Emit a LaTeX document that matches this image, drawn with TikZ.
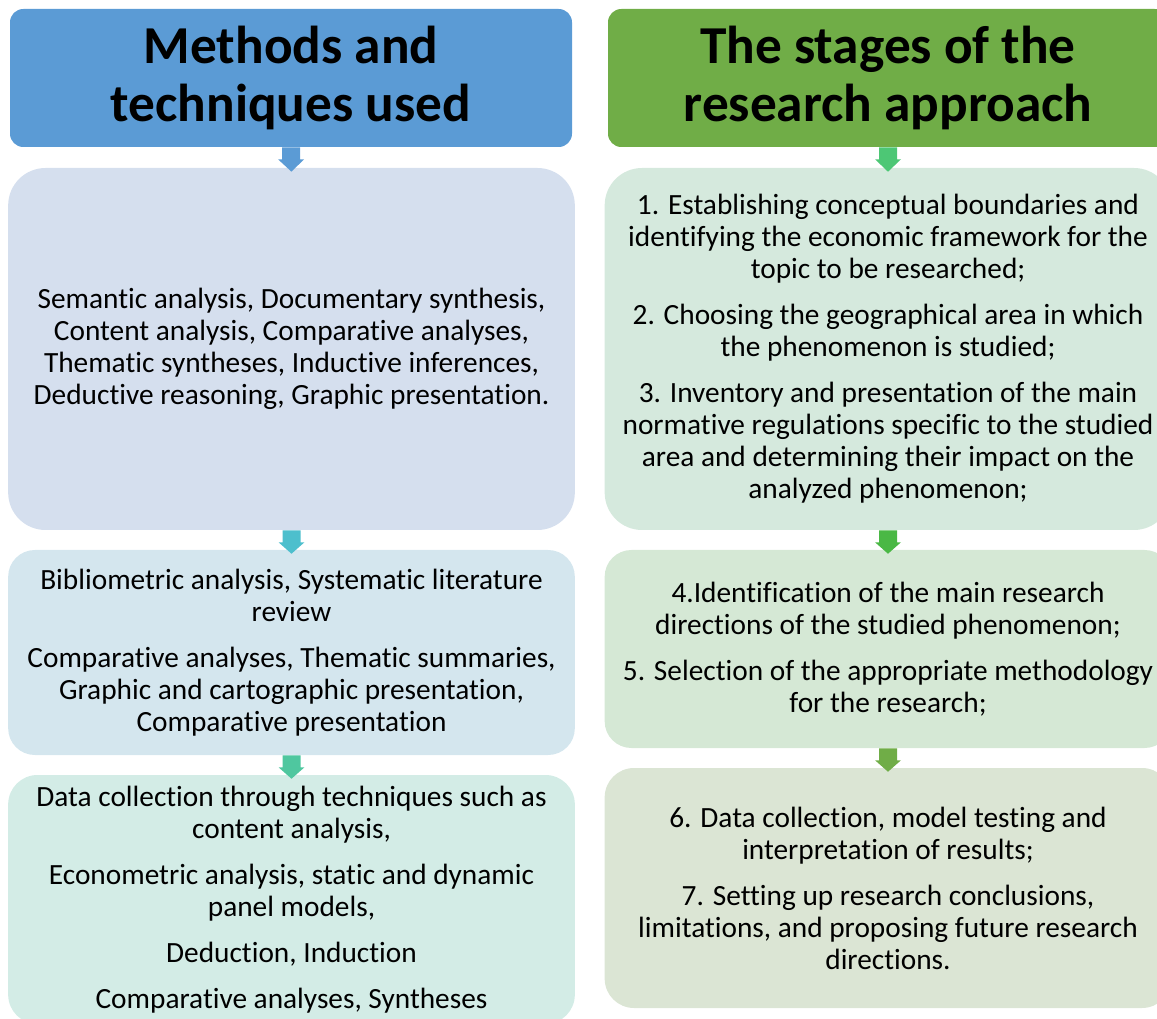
\documentclass[tikz,border=0pt]{standalone}
\usepackage{fontspec}
\setmainfont{Carlito}[Ligatures={NoCommon}]
\usetikzlibrary{calc}

\definecolor{headblue}{HTML}{5B9BD5}
\definecolor{headgreen}{HTML}{70AD47}
\definecolor{mfillA}{HTML}{D5DFEE}
\definecolor{mfillB}{HTML}{D4E6EE}
\definecolor{mfillC}{HTML}{D3ECE6}
\definecolor{sfillA}{HTML}{D5E9DD}
\definecolor{sfillB}{HTML}{D5E8D5}
\definecolor{sfillC}{HTML}{DBE5D4}
\definecolor{arrA}{HTML}{5B9BD5}
\definecolor{arrB}{HTML}{4DBFCD}
\definecolor{arrC}{HTML}{4FC79F}
\definecolor{arrD}{HTML}{4DC775}
\definecolor{arrE}{HTML}{4AB845}
\definecolor{arrF}{HTML}{70AD47}

%% block arrow from the bottom of #1 to the top of #2
\newcommand{\downarr}[3]{
  \fill[#3] ($(#1.south)+(-9,0)$) -- ($(#1.south)+(9,0)$) -- ($(#1.south)+(9,12)$)
    -- ($(#1.south)+(13,12)$) -- ($(#2.north)+(0,4)$) -- ($(#1.south)+(-13,12)$)
    -- ($(#1.south)+(-9,12)$) -- cycle;
}

\begin{document}
\begin{tikzpicture}[x=0.75pt,y=-0.75pt,
  head/.style={rounded corners=10pt, align=center, inner sep=0pt,
    minimum height=103.5pt, font=\fontsize{40}{44}\selectfont\bfseries},
  box/.style={rounded corners=28pt, align=center, inner sep=0pt,
    minimum width=425pt, font=\fontsize{22}{24}\selectfont}
]
\useasboundingbox (0,0) rectangle (1157,1019);

%% headers
\node[head, fill=headblue, minimum width=421.5pt] (mhead) at (291,78)
  {Methods and\\ techniques used};
\node[head, fill=headgreen, minimum width=420pt] (shead) at (888,78)
  {The stages of the\\ research approach};

%% left column: methods
\node[box, fill=mfillA, minimum height=271.5pt] (m1) at (291.5,349)
  {Semantic analysis, Documentary synthesis,\\ Content analysis, Comparative analyses,\\
   Thematic syntheses, Inductive inferences,\\ Deductive reasoning, Graphic presentation.};
\node[box, fill=mfillB, minimum height=153.75pt, rounded corners=20pt] (m2) at (291.5,652.5)
  {Bibliometric analysis, Systematic literature\\ review\\[10.5pt]
   Comparative analyses, Thematic summaries,\\ Graphic and cartographic presentation,\\
   Comparative presentation};
\node[box, fill=mfillC, minimum height=186.75pt, rounded corners=22pt] (m3) at (291.5,899.5)
  {Data collection through techniques such as\\ content analysis,\\[10.5pt]
   Econometric analysis, static and dynamic\\ panel models,\\[10.5pt]
   Deduction, Induction\\[10.5pt]
   Comparative analyses, Syntheses};

%% right column: stages
\node[box, fill=sfillA, minimum height=271.5pt] (s1) at (888,349)
  {1. Establishing conceptual boundaries and\\ identifying the economic framework for the\\
   topic to be researched;\\[10.5pt]
   2. Choosing the geographical area in which\\ the phenomenon is studied;\\[10.5pt]
   3. Inventory and presentation of the main\\ normative regulations specific to the studied\\
   area and determining their impact on the\\ analyzed phenomenon;};
\node[box, fill=sfillB, minimum height=148.5pt, rounded corners=20pt] (s2) at (888,649)
  {4.Identification of the main research\\ directions of the studied phenomenon;\\[10.5pt]
   5. Selection of the appropriate methodology\\ for the research;};
\node[box, fill=sfillC, minimum height=180pt, rounded corners=22pt] (s3) at (888,888)
  {6. Data collection, model testing and\\ interpretation of results;\\[10.5pt]
   7. Setting up research conclusions,\\ limitations, and proposing future research\\
   directions.};

%% arrows
\downarr{mhead}{m1}{arrA}
\downarr{m1}{m2}{arrB}
\downarr{m2}{m3}{arrC}
\downarr{shead}{s1}{arrD}
\downarr{s1}{s2}{arrE}
\downarr{s2}{s3}{arrF}

\end{tikzpicture}
\end{document}
